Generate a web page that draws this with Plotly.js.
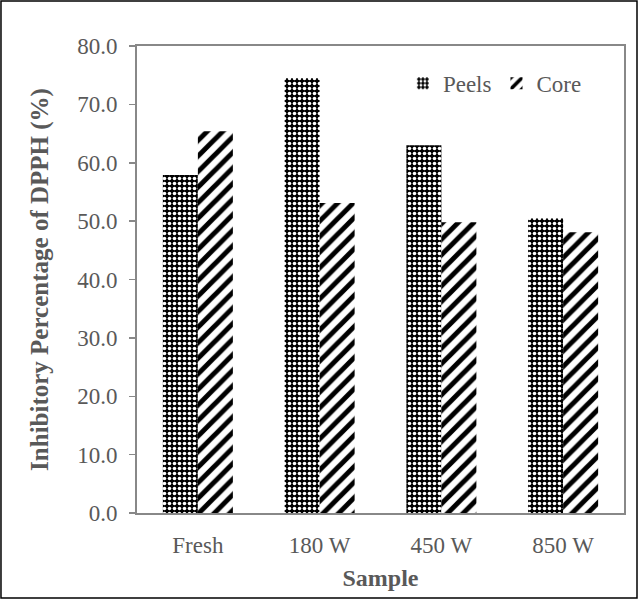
<!DOCTYPE html>
<html>
<head>
<meta charset="utf-8">
<script src="https://cdn.plot.ly/plotly-3.0.1.min.js"></script>
<style>
html,body{margin:0;padding:0;background:#fff;}
#chart{width:638px;height:600px;}
</style>
</head>
<body>
<div id="chart"></div>
<script>
const categories = ["Fresh", "180 W", "450 W", "850 W"];
const peels = [57.9, 74.5, 63.0, 50.5];
const core = [65.4, 53.1, 49.8, 48.1];
const yTicks = [0, 10, 20, 30, 40, 50, 60, 70, 80];
const yTickText = ["0.0", "10.0", "20.0", "30.0", "40.0", "50.0", "60.0", "70.0", "80.0"];

const font = "Times New Roman, Liberation Serif, serif";
const grey = "#595959";

const traces = [
  {
    type: "bar", name: "Peels", x: categories, y: peels,
    marker: {color: "black", line: {width: 0},
      pattern: {shape: ".", fgcolor: "white", bgcolor: "black", size: 5, solidity: 0.4}},
  },
  {
    type: "bar", name: "Core", x: categories, y: core,
    marker: {color: "white", line: {width: 0},
      pattern: {shape: "/", fgcolor: "black", bgcolor: "white", size: 11, solidity: 0.45}},
  }
];

const layout = {
  width: 638, height: 600,
  margin: {l: 137, r: 14, t: 46, b: 87},
  paper_bgcolor: "white", plot_bgcolor: "white",
  barmode: "group", bargap: 0.425, bargroupgap: 0,
  font: {family: font, color: grey, size: 23},
  showlegend: true,
  legend: {orientation: "h", x: 0.546, y: 0.92, xanchor: "left", yanchor: "middle",
    font: {family: font, size: 23, color: grey}, bgcolor: "rgba(0,0,0,0)", itemwidth: 30},
  xaxis: {
    showline: true, linecolor: "#888", linewidth: 2, mirror: true,
    ticks: "", showgrid: false, zeroline: false, ticklabelstandoff: 10,
    tickfont: {family: font, size: 23, color: grey},
    title: {text: "<b>Sample</b>", font: {family: font, size: 24, color: grey}, standoff: 13}
  },
  yaxis: {
    range: [0, 80], tickvals: yTicks, ticktext: yTickText,
    showline: true, linecolor: "#888", linewidth: 2, mirror: true,
    ticks: "outside", ticklen: 6, tickcolor: "#888", tickwidth: 1.5,
    showgrid: false, zeroline: false, ticklabelstandoff: 7,
    tickfont: {family: font, size: 23, color: grey},
    title: {text: "<b>Inhibitory Percentage of DPPH (%)</b>", font: {family: font, size: 25, color: grey}, standoff: 21}
  },
  shapes: [{
    type: "rect", xref: "paper", yref: "paper",
    x0: -0.2793, x1: 1.0267, y0: -0.182, y1: 1.0964,
    line: {color: "black", width: 1.5}, fillcolor: "rgba(0,0,0,0)"
  }]
};

Plotly.newPlot("chart", traces, layout, {displayModeBar: false, staticPlot: true});
</script>
</body>
</html>
